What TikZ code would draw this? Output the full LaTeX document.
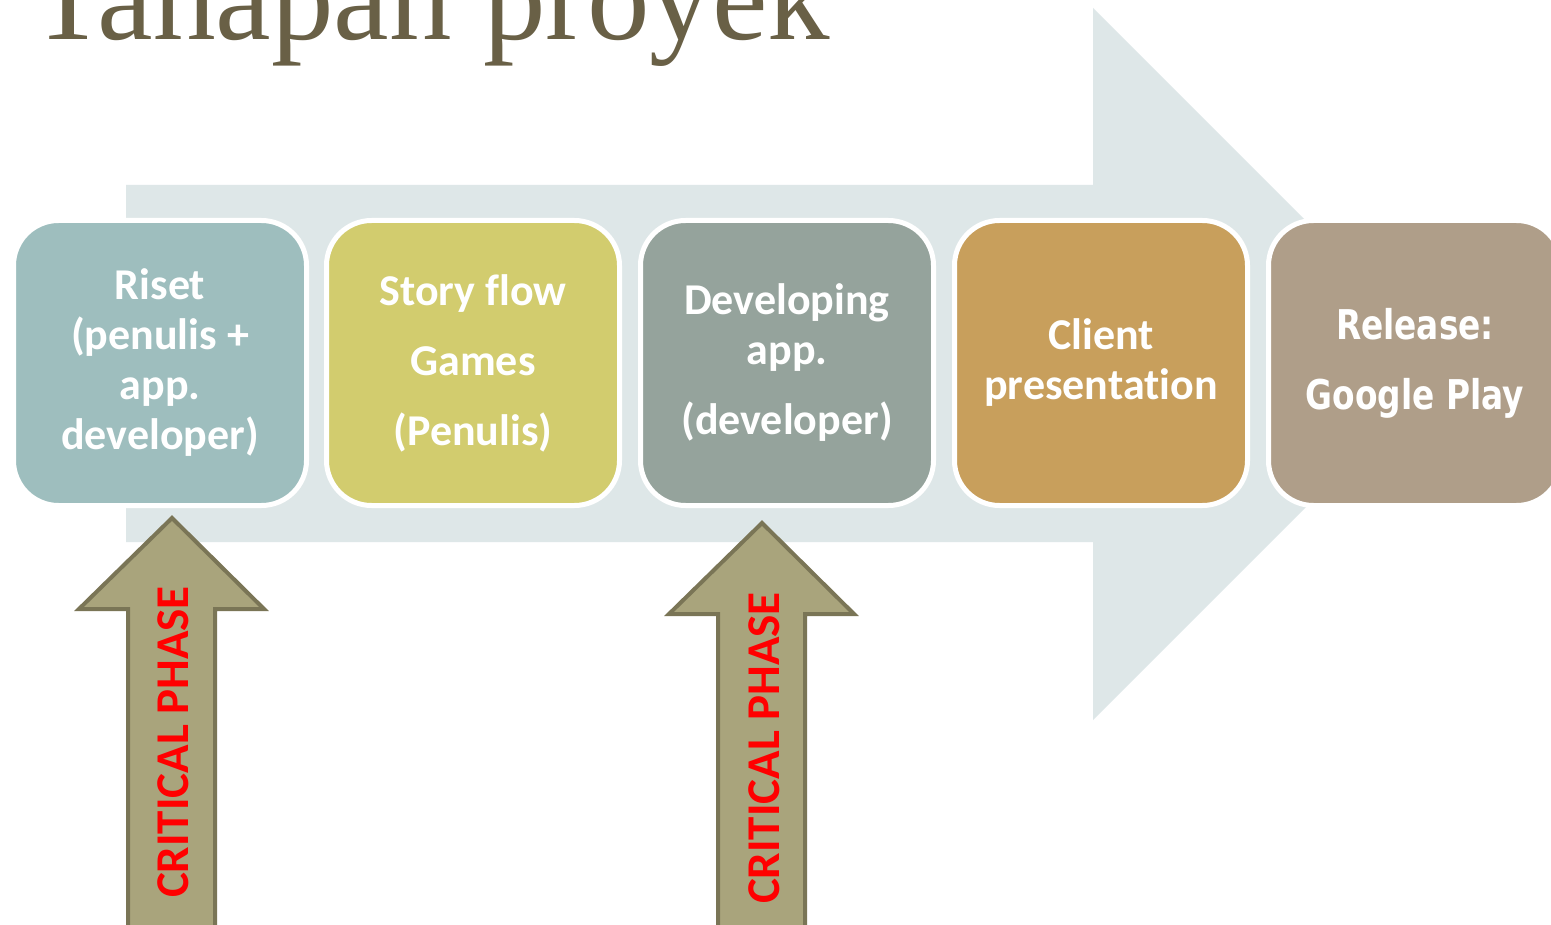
\documentclass[tikz,border=0pt]{standalone}
\usepackage{fontspec}
\newfontfamily\titlefont{Liberation Serif}
\newfontfamily\boxfont{Carlito}[Ligatures=NoCommon]
\newfontfamily\relfont{DejaVu Sans}[FakeStretch=0.8]
\definecolor{titlecol}{RGB}{105,96,70}
\definecolor{arrowbg}{RGB}{222,231,232}
\definecolor{cA}{RGB}{158,190,190}
\definecolor{cB}{RGB}{210,204,110}
\definecolor{cC}{RGB}{149,163,156}
\definecolor{cD}{RGB}{200,159,92}
\definecolor{cE}{RGB}{175,158,137}
\definecolor{critfill}{RGB}{169,164,124}
\definecolor{critdraw}{RGB}{122,117,86}
\pgfdeclareradialshading{vign}{\pgfpoint{0bp}{0bp}}{color(0bp)=(white); color(36bp)=(white); color(50bp)=(black!6); color(70bp)=(black!8)}
\tikzset{
  phase/.style={draw=white, line width=5pt, rounded corners=45pt, minimum width=293pt, minimum height=285pt,
    align=center, text=white, font=\boxfont\bfseries\fontsize{44}{50}\selectfont, inner sep=0pt},
  critarrow/.style={fill=critfill, draw=critdraw, line width=4pt, line join=miter},
  crittext/.style={rotate=90, anchor=base, text=red, font=\boxfont\bfseries\fontsize{47}{50}\selectfont, inner sep=0pt}
}
\begin{document}
\begin{tikzpicture}[x=1pt,y=-1pt]
\useasboundingbox (0,0) rectangle (1551,925);
\clip (0,0) rectangle (1551,925);
\shade[shading=vign] (-200,-100) rectangle (1751,1100);
% title
\node[anchor=base west, inner sep=0pt, text=titlecol, font=\titlefont\fontsize{125}{125}\selectfont] (title) at (30,40) {Tahapan proyek};
% big background arrow
\fill[arrowbg] (126,185) -- (1093,185) -- (1093,8) -- (1449,364) -- (1093,720) -- (1093,542) -- (126,542) -- cycle;
% phases
\node[phase, fill=cA] (p1) at (160,363) {Riset\\(penulis +\\app.\\developer)};
\node[phase, fill=cB] (p2) at (473,363) {Story flow\\[20pt]Games\\[20pt](Penulis)};
\node[phase, fill=cC] (p3) at (787,363) {Developing\\app.\\[20pt](developer)};
\node[phase, fill=cD] (p4) at (1101,363) {Client\\presentation};
\node[phase, fill=cE, font=\relfont\bfseries\fontsize{41}{48}\selectfont] (p5) at (1415,363) {Release:\\[22pt]Google Play};
% critical phase arrows
\draw[critarrow] (128,960) -- (128,609) -- (79,609) -- (172,518) -- (264,609) -- (215,609) -- (215,960) -- cycle;
\node[crittext] (c1) at (188,742) {CRITICAL PHASE};
\draw[critarrow] (718,960) -- (718,614) -- (669,614) -- (762,523) -- (854,614) -- (805,614) -- (805,960) -- cycle;
\node[crittext] (c2) at (779,748) {CRITICAL PHASE};
\end{tikzpicture}
\end{document}
